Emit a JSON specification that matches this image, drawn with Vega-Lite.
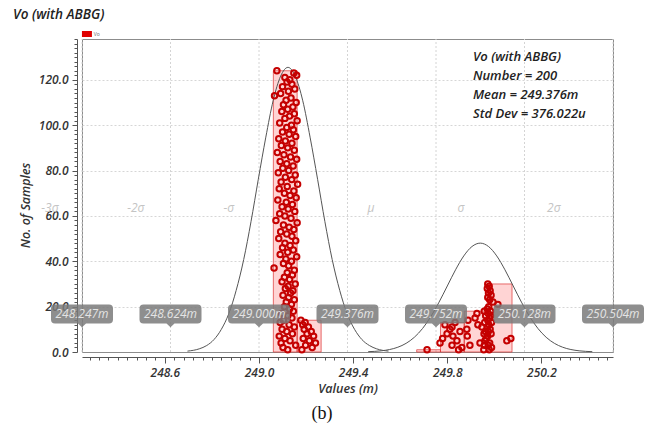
{
  "$schema": "https://vega.github.io/schema/vega-lite/v6.json",
  "width": 531,
  "height": 313,
  "autosize": {"type": "none"},
  "padding": {"left": 82, "top": 39, "right": 33, "bottom": 74},
  "config": {
    "view": {"stroke": "#8c8c8c", "strokeWidth": 1},
    "font": "Open Sans",
    "axis": {
      "domainColor": "#555", "tickColor": "#555",
      "labelFont": "Open Sans", "labelFontSize": 12, "labelFontWeight": 600, "labelFontStyle": "italic", "labelColor": "#333",
      "labelPadding": 4, "labelOverlap": false, "labelFlush": false,
      "titleFont": "Open Sans", "titleFontSize": 12.5, "titleFontWeight": 600, "titleFontStyle": "italic", "titleColor": "#333"
    }
  },
  "data": {"values": [{}]},
  "datasets": {
    "bins": [
      {"x": 249.061, "x2": 249.162, "y": 124},
      {"x": 249.162, "x2": 249.264, "y": 14},
      {"x": 249.670, "x2": 249.771, "y": 1},
      {"x": 249.771, "x2": 249.872, "y": 13},
      {"x": 249.872, "x2": 249.974, "y": 18},
      {"x": 249.974, "x2": 250.075, "y": 30}
    ],
    "curves": [
      {"c": "a", "x": 248.696, "y": 0.39}, {"c": "a", "x": 248.746, "y": 1.39}, {"c": "a", "x": 248.778, "y": 2.86},
      {"c": "a", "x": 248.809, "y": 5.51}, {"c": "a", "x": 248.840, "y": 9.99}, {"c": "a", "x": 248.872, "y": 16.98},
      {"c": "a", "x": 248.903, "y": 27.15}, {"c": "a", "x": 248.935, "y": 40.75}, {"c": "a", "x": 248.966, "y": 57.45},
      {"c": "a", "x": 248.997, "y": 76.12}, {"c": "a", "x": 249.029, "y": 94.73}, {"c": "a", "x": 249.060, "y": 110.75},
      {"c": "a", "x": 249.092, "y": 121.63}, {"c": "a", "x": 249.123, "y": 125.5}, {"c": "a", "x": 249.154, "y": 121.63},
      {"c": "a", "x": 249.186, "y": 110.75}, {"c": "a", "x": 249.217, "y": 94.73}, {"c": "a", "x": 249.249, "y": 76.12},
      {"c": "a", "x": 249.280, "y": 57.45}, {"c": "a", "x": 249.311, "y": 40.75}, {"c": "a", "x": 249.343, "y": 27.15},
      {"c": "a", "x": 249.374, "y": 16.98}, {"c": "a", "x": 249.406, "y": 9.99}, {"c": "a", "x": 249.437, "y": 5.51},
      {"c": "a", "x": 249.469, "y": 2.86}, {"c": "a", "x": 249.500, "y": 1.39}, {"c": "a", "x": 249.550, "y": 0.39},
      {"c": "b", "x": 249.464, "y": 0.15}, {"c": "b", "x": 249.520, "y": 0.53}, {"c": "b", "x": 249.555, "y": 1.09},
      {"c": "b", "x": 249.590, "y": 2.11}, {"c": "b", "x": 249.625, "y": 3.82}, {"c": "b", "x": 249.660, "y": 6.49},
      {"c": "b", "x": 249.695, "y": 10.38}, {"c": "b", "x": 249.730, "y": 15.59}, {"c": "b", "x": 249.765, "y": 21.98},
      {"c": "b", "x": 249.800, "y": 29.11}, {"c": "b", "x": 249.835, "y": 36.23}, {"c": "b", "x": 249.870, "y": 42.36},
      {"c": "b", "x": 249.905, "y": 46.52}, {"c": "b", "x": 249.940, "y": 48}, {"c": "b", "x": 249.975, "y": 46.52},
      {"c": "b", "x": 250.010, "y": 42.36}, {"c": "b", "x": 250.045, "y": 36.23}, {"c": "b", "x": 250.080, "y": 29.11},
      {"c": "b", "x": 250.115, "y": 21.98}, {"c": "b", "x": 250.150, "y": 15.59}, {"c": "b", "x": 250.185, "y": 10.38},
      {"c": "b", "x": 250.220, "y": 6.49}, {"c": "b", "x": 250.255, "y": 3.82}, {"c": "b", "x": 250.290, "y": 2.11},
      {"c": "b", "x": 250.325, "y": 1.09}, {"c": "b", "x": 250.360, "y": 0.53}, {"c": "b", "x": 250.416, "y": 0.15}
    ],
    "dots": [
      {"x": 249.076, "y": 124}, {"x": 249.148, "y": 123}, {"x": 249.160, "y": 122}, {"x": 249.110, "y": 121},
      {"x": 249.131, "y": 120}, {"x": 249.119, "y": 119}, {"x": 249.140, "y": 118}, {"x": 249.100, "y": 117},
      {"x": 249.152, "y": 116}, {"x": 249.125, "y": 115}, {"x": 249.092, "y": 114}, {"x": 249.066, "y": 113},
      {"x": 249.136, "y": 112}, {"x": 249.115, "y": 111}, {"x": 249.158, "y": 110}, {"x": 249.104, "y": 109},
      {"x": 249.144, "y": 108}, {"x": 249.122, "y": 107}, {"x": 249.097, "y": 106}, {"x": 249.150, "y": 105},
      {"x": 249.130, "y": 104}, {"x": 249.110, "y": 103}, {"x": 249.162, "y": 102}, {"x": 249.088, "y": 101},
      {"x": 249.138, "y": 100}, {"x": 249.118, "y": 99}, {"x": 249.146, "y": 98}, {"x": 249.100, "y": 97},
      {"x": 249.128, "y": 96}, {"x": 249.156, "y": 95}, {"x": 249.084, "y": 94}, {"x": 249.112, "y": 93},
      {"x": 249.140, "y": 92}, {"x": 249.095, "y": 91}, {"x": 249.122, "y": 90}, {"x": 249.150, "y": 89},
      {"x": 249.078, "y": 88}, {"x": 249.106, "y": 87}, {"x": 249.134, "y": 86}, {"x": 249.160, "y": 85},
      {"x": 249.090, "y": 84}, {"x": 249.118, "y": 83}, {"x": 249.145, "y": 82}, {"x": 249.101, "y": 81},
      {"x": 249.126, "y": 80}, {"x": 249.082, "y": 79}, {"x": 249.154, "y": 78}, {"x": 249.112, "y": 77},
      {"x": 249.139, "y": 76}, {"x": 249.094, "y": 75}, {"x": 249.164, "y": 74}, {"x": 249.120, "y": 73},
      {"x": 249.086, "y": 72}, {"x": 249.148, "y": 71}, {"x": 249.108, "y": 70}, {"x": 249.132, "y": 69},
      {"x": 249.158, "y": 68}, {"x": 249.080, "y": 67}, {"x": 249.116, "y": 66}, {"x": 249.142, "y": 65},
      {"x": 249.098, "y": 64}, {"x": 249.124, "y": 63}, {"x": 249.152, "y": 62}, {"x": 249.088, "y": 61},
      {"x": 249.110, "y": 60}, {"x": 249.136, "y": 59}, {"x": 249.072, "y": 58}, {"x": 249.162, "y": 57},
      {"x": 249.104, "y": 56}, {"x": 249.128, "y": 55}, {"x": 249.148, "y": 54}, {"x": 249.092, "y": 53},
      {"x": 249.118, "y": 52}, {"x": 249.140, "y": 51}, {"x": 249.084, "y": 50}, {"x": 249.156, "y": 49},
      {"x": 249.110, "y": 48}, {"x": 249.132, "y": 47}, {"x": 249.100, "y": 46}, {"x": 249.146, "y": 45},
      {"x": 249.122, "y": 44}, {"x": 249.090, "y": 43}, {"x": 249.160, "y": 42}, {"x": 249.114, "y": 41},
      {"x": 249.138, "y": 40}, {"x": 249.104, "y": 39}, {"x": 249.126, "y": 38}, {"x": 249.064, "y": 37},
      {"x": 249.150, "y": 36}, {"x": 249.120, "y": 35}, {"x": 249.142, "y": 34}, {"x": 249.108, "y": 33},
      {"x": 249.130, "y": 32}, {"x": 249.098, "y": 31}, {"x": 249.154, "y": 30}, {"x": 249.124, "y": 29},
      {"x": 249.112, "y": 28}, {"x": 249.144, "y": 27}, {"x": 249.134, "y": 26}, {"x": 249.102, "y": 25},
      {"x": 249.126, "y": 24}, {"x": 249.150, "y": 23}, {"x": 249.116, "y": 22}, {"x": 249.138, "y": 21},
      {"x": 249.108, "y": 20}, {"x": 249.130, "y": 19}, {"x": 249.146, "y": 18}, {"x": 249.096, "y": 17},
      {"x": 249.122, "y": 16}, {"x": 249.140, "y": 15}, {"x": 249.104, "y": 14}, {"x": 249.090, "y": 13},
      {"x": 249.128, "y": 12}, {"x": 249.150, "y": 11}, {"x": 249.098, "y": 10}, {"x": 249.118, "y": 9},
      {"x": 249.142, "y": 8}, {"x": 249.086, "y": 7}, {"x": 249.110, "y": 6}, {"x": 249.132, "y": 5},
      {"x": 249.094, "y": 4}, {"x": 249.156, "y": 3}, {"x": 249.102, "y": 2}, {"x": 249.122, "y": 1},
      {"x": 249.178, "y": 14}, {"x": 249.196, "y": 13}, {"x": 249.186, "y": 12}, {"x": 249.210, "y": 11},
      {"x": 249.192, "y": 10}, {"x": 249.222, "y": 9}, {"x": 249.204, "y": 8}, {"x": 249.232, "y": 7},
      {"x": 249.188, "y": 6}, {"x": 249.214, "y": 5}, {"x": 249.240, "y": 4}, {"x": 249.198, "y": 3},
      {"x": 249.226, "y": 2}, {"x": 249.182, "y": 1},
      {"x": 249.714, "y": 1},
      {"x": 249.769, "y": 4}, {"x": 249.790, "y": 12}, {"x": 249.799, "y": 8}, {"x": 249.811, "y": 10},
      {"x": 249.820, "y": 11}, {"x": 249.824, "y": 7}, {"x": 249.833, "y": 13}, {"x": 249.854, "y": 9},
      {"x": 249.841, "y": 5}, {"x": 249.820, "y": 3}, {"x": 249.862, "y": 2}, {"x": 249.780, "y": 6},
      {"x": 249.848, "y": 1},
      {"x": 249.888, "y": 14}, {"x": 249.883, "y": 10}, {"x": 249.885, "y": 7}, {"x": 249.926, "y": 17},
      {"x": 249.930, "y": 12}, {"x": 249.947, "y": 11}, {"x": 249.918, "y": 15}, {"x": 249.896, "y": 3},
      {"x": 249.955, "y": 1}, {"x": 249.958, "y": 3}, {"x": 249.960, "y": 5}, {"x": 249.956, "y": 8},
      {"x": 249.962, "y": 9}, {"x": 249.959, "y": 13}, {"x": 249.963, "y": 16}, {"x": 249.957, "y": 18},
      {"x": 249.965, "y": 6}, {"x": 249.939, "y": 4},
      {"x": 249.972, "y": 30}, {"x": 249.978, "y": 29}, {"x": 249.970, "y": 28}, {"x": 249.982, "y": 27},
      {"x": 249.975, "y": 26}, {"x": 249.986, "y": 25}, {"x": 249.972, "y": 24}, {"x": 249.980, "y": 23},
      {"x": 249.994, "y": 22}, {"x": 250.015, "y": 21}, {"x": 249.976, "y": 20}, {"x": 249.970, "y": 19},
      {"x": 249.984, "y": 18}, {"x": 249.974, "y": 17}, {"x": 249.984, "y": 16}, {"x": 249.980, "y": 15},
      {"x": 249.972, "y": 14}, {"x": 249.988, "y": 13}, {"x": 249.976, "y": 12}, {"x": 249.970, "y": 11},
      {"x": 249.982, "y": 10}, {"x": 249.974, "y": 9}, {"x": 249.986, "y": 8}, {"x": 249.972, "y": 7},
      {"x": 250.070, "y": 6}, {"x": 250.053, "y": 5}, {"x": 249.980, "y": 4}, {"x": 249.974, "y": 3},
      {"x": 249.988, "y": 2}, {"x": 249.978, "y": 1}
    ],
    "markers": [
      {"x": 248.248, "t": "248.247m"}, {"x": 248.624, "t": "248.624m"}, {"x": 249.0, "t": "249.000m"},
      {"x": 249.376, "t": "249.376m"}, {"x": 249.752, "t": "249.752m"}, {"x": 250.128, "t": "250.128m"},
      {"x": 250.504, "t": "250.504m"}
    ],
    "sigmas": [
      {"x": 248.112, "t": "-3σ"}, {"x": 248.477, "t": "-2σ"}, {"x": 248.872, "t": "-σ"},
      {"x": 249.476, "t": "μ"}, {"x": 249.858, "t": "σ"}, {"x": 250.253, "t": "2σ"}
    ]
  },
  "layer": [
    {
      "data": {"name": "markers"},
      "mark": {"type": "rule", "color": "#d4d4d4", "strokeDash": [2, 2], "strokeWidth": 1},
      "encoding": {
        "x": {"field": "x", "type": "quantitative", "scale": {"domain": [248.248, 250.504], "nice": false, "zero": false}, "axis": {"title": "Values (m)", "values": [248.28,248.32,248.36,248.4,248.44,248.48,248.52,248.56,248.6,248.64,248.68,248.72,248.76,248.8,248.84,248.88,248.92,248.96,249,249.04,249.08,249.12,249.16,249.2,249.24,249.28,249.32,249.36,249.4,249.44,249.48,249.52,249.56,249.6,249.64,249.68,249.72,249.76,249.8,249.84,249.88,249.92,249.96,250,250.04,250.08,250.12,250.16,250.2,250.24,250.28,250.32,250.36,250.4,250.44,250.48], "labelExpr": "indexof([248.6,249,249.4,249.8,250.2], datum.value) >= 0 ? format(datum.value, '.1f') : ''", "tickSize": {"condition": {"test": "indexof([248.6,249,249.4,249.8,250.2], datum.value) >= 0", "value": 6}, "value": 3}, "offset": 5, "grid": false, "titlePadding": 4}},
        "y": {"datum": 0, "type": "quantitative", "scale": {"domain": [0, 138], "nice": false, "zero": false}, "axis": {"title": "No. of Samples", "values": [0,2,4,6,8,10,12,14,16,18,20,22,24,26,28,30,32,34,36,38,40,42,44,46,48,50,52,54,56,58,60,62,64,66,68,70,72,74,76,78,80,82,84,86,88,90,92,94,96,98,100,102,104,106,108,110,112,114,116,118,120,122,124,126,128,130,132,134,136,138], "labelExpr": "datum.value % 20 === 0 ? format(datum.value, '.1f') : ''", "tickSize": {"condition": {"test": "datum.value % 20 === 0", "value": 5}, "value": 3}, "grid": true, "gridDash": [2, 2], "gridColor": "#d6d6d6", "gridOpacity": {"condition": {"test": "datum.value % 20 === 0 && datum.value > 0", "value": 1}, "value": 0}, "offset": 5, "titleX": -52, "titleY": 166, "titleBaseline": "middle", "titleAlign": "center", "titleAngle": -90}},
        "y2": {"datum": 138}
      }
    },
    {
      "data": {"name": "bins"},
      "mark": {"type": "rect", "fill": "#ff0000", "fillOpacity": 0.17, "stroke": "#dd3333", "strokeWidth": 1, "strokeOpacity": 0.7},
      "encoding": {
        "x": {"field": "x", "type": "quantitative", "scale": {"domain": [248.248, 250.504], "nice": false, "zero": false}, "axis": {"title": "Values (m)", "values": [248.28,248.32,248.36,248.4,248.44,248.48,248.52,248.56,248.6,248.64,248.68,248.72,248.76,248.8,248.84,248.88,248.92,248.96,249,249.04,249.08,249.12,249.16,249.2,249.24,249.28,249.32,249.36,249.4,249.44,249.48,249.52,249.56,249.6,249.64,249.68,249.72,249.76,249.8,249.84,249.88,249.92,249.96,250,250.04,250.08,250.12,250.16,250.2,250.24,250.28,250.32,250.36,250.4,250.44,250.48], "labelExpr": "indexof([248.6,249,249.4,249.8,250.2], datum.value) >= 0 ? format(datum.value, '.1f') : ''", "tickSize": {"condition": {"test": "indexof([248.6,249,249.4,249.8,250.2], datum.value) >= 0", "value": 6}, "value": 3}, "offset": 5, "grid": false, "titlePadding": 4}},
        "x2": {"field": "x2"},
        "y": {"field": "y", "type": "quantitative", "scale": {"domain": [0, 138], "nice": false, "zero": false}, "axis": {"title": "No. of Samples", "values": [0,2,4,6,8,10,12,14,16,18,20,22,24,26,28,30,32,34,36,38,40,42,44,46,48,50,52,54,56,58,60,62,64,66,68,70,72,74,76,78,80,82,84,86,88,90,92,94,96,98,100,102,104,106,108,110,112,114,116,118,120,122,124,126,128,130,132,134,136,138], "labelExpr": "datum.value % 20 === 0 ? format(datum.value, '.1f') : ''", "tickSize": {"condition": {"test": "datum.value % 20 === 0", "value": 5}, "value": 3}, "grid": true, "gridDash": [2, 2], "gridColor": "#d6d6d6", "gridOpacity": {"condition": {"test": "datum.value % 20 === 0 && datum.value > 0", "value": 1}, "value": 0}, "offset": 5, "titleX": -52, "titleY": 166, "titleBaseline": "middle", "titleAlign": "center", "titleAngle": -90}},
        "y2": {"datum": 0}
      }
    },
    {
      "data": {"name": "sigmas"},
      "mark": {"type": "text", "font": "Open Sans", "fontSize": 12, "fontStyle": "italic", "color": "#c4c4c4", "baseline": "middle", "align": "center"},
      "encoding": {
        "x": {"field": "x", "type": "quantitative", "scale": {"domain": [248.248, 250.504], "nice": false, "zero": false}, "axis": {"title": "Values (m)", "values": [248.28,248.32,248.36,248.4,248.44,248.48,248.52,248.56,248.6,248.64,248.68,248.72,248.76,248.8,248.84,248.88,248.92,248.96,249,249.04,249.08,249.12,249.16,249.2,249.24,249.28,249.32,249.36,249.4,249.44,249.48,249.52,249.56,249.6,249.64,249.68,249.72,249.76,249.8,249.84,249.88,249.92,249.96,250,250.04,250.08,250.12,250.16,250.2,250.24,250.28,250.32,250.36,250.4,250.44,250.48], "labelExpr": "indexof([248.6,249,249.4,249.8,250.2], datum.value) >= 0 ? format(datum.value, '.1f') : ''", "tickSize": {"condition": {"test": "indexof([248.6,249,249.4,249.8,250.2], datum.value) >= 0", "value": 6}, "value": 3}, "offset": 5, "grid": false, "titlePadding": 4}},
        "y": {"datum": 63.5, "type": "quantitative", "scale": {"domain": [0, 138], "nice": false, "zero": false}, "axis": {"title": "No. of Samples", "values": [0,2,4,6,8,10,12,14,16,18,20,22,24,26,28,30,32,34,36,38,40,42,44,46,48,50,52,54,56,58,60,62,64,66,68,70,72,74,76,78,80,82,84,86,88,90,92,94,96,98,100,102,104,106,108,110,112,114,116,118,120,122,124,126,128,130,132,134,136,138], "labelExpr": "datum.value % 20 === 0 ? format(datum.value, '.1f') : ''", "tickSize": {"condition": {"test": "datum.value % 20 === 0", "value": 5}, "value": 3}, "grid": true, "gridDash": [2, 2], "gridColor": "#d6d6d6", "gridOpacity": {"condition": {"test": "datum.value % 20 === 0 && datum.value > 0", "value": 1}, "value": 0}, "offset": 5, "titleX": -52, "titleY": 166, "titleBaseline": "middle", "titleAlign": "center", "titleAngle": -90}},
        "text": {"field": "t"}
      }
    },
    {
      "data": {"name": "curves"},
      "mark": {"type": "line", "color": "#555555", "strokeWidth": 1, "interpolate": "monotone"},
      "encoding": {
        "x": {"field": "x", "type": "quantitative", "scale": {"domain": [248.248, 250.504], "nice": false, "zero": false}, "axis": {"title": "Values (m)", "values": [248.28,248.32,248.36,248.4,248.44,248.48,248.52,248.56,248.6,248.64,248.68,248.72,248.76,248.8,248.84,248.88,248.92,248.96,249,249.04,249.08,249.12,249.16,249.2,249.24,249.28,249.32,249.36,249.4,249.44,249.48,249.52,249.56,249.6,249.64,249.68,249.72,249.76,249.8,249.84,249.88,249.92,249.96,250,250.04,250.08,250.12,250.16,250.2,250.24,250.28,250.32,250.36,250.4,250.44,250.48], "labelExpr": "indexof([248.6,249,249.4,249.8,250.2], datum.value) >= 0 ? format(datum.value, '.1f') : ''", "tickSize": {"condition": {"test": "indexof([248.6,249,249.4,249.8,250.2], datum.value) >= 0", "value": 6}, "value": 3}, "offset": 5, "grid": false, "titlePadding": 4}},
        "y": {"field": "y", "type": "quantitative", "scale": {"domain": [0, 138], "nice": false, "zero": false}, "axis": {"title": "No. of Samples", "values": [0,2,4,6,8,10,12,14,16,18,20,22,24,26,28,30,32,34,36,38,40,42,44,46,48,50,52,54,56,58,60,62,64,66,68,70,72,74,76,78,80,82,84,86,88,90,92,94,96,98,100,102,104,106,108,110,112,114,116,118,120,122,124,126,128,130,132,134,136,138], "labelExpr": "datum.value % 20 === 0 ? format(datum.value, '.1f') : ''", "tickSize": {"condition": {"test": "datum.value % 20 === 0", "value": 5}, "value": 3}, "grid": true, "gridDash": [2, 2], "gridColor": "#d6d6d6", "gridOpacity": {"condition": {"test": "datum.value % 20 === 0 && datum.value > 0", "value": 1}, "value": 0}, "offset": 5, "titleX": -52, "titleY": 166, "titleBaseline": "middle", "titleAlign": "center", "titleAngle": -90}},
        "detail": {"field": "c"}
      }
    },
    {
      "data": {"name": "dots"},
      "mark": {"type": "point", "filled": false, "shape": "circle", "size": 30, "stroke": "#c40000", "strokeWidth": 2, "opacity": 1},
      "encoding": {
        "x": {"field": "x", "type": "quantitative", "scale": {"domain": [248.248, 250.504], "nice": false, "zero": false}, "axis": {"title": "Values (m)", "values": [248.28,248.32,248.36,248.4,248.44,248.48,248.52,248.56,248.6,248.64,248.68,248.72,248.76,248.8,248.84,248.88,248.92,248.96,249,249.04,249.08,249.12,249.16,249.2,249.24,249.28,249.32,249.36,249.4,249.44,249.48,249.52,249.56,249.6,249.64,249.68,249.72,249.76,249.8,249.84,249.88,249.92,249.96,250,250.04,250.08,250.12,250.16,250.2,250.24,250.28,250.32,250.36,250.4,250.44,250.48], "labelExpr": "indexof([248.6,249,249.4,249.8,250.2], datum.value) >= 0 ? format(datum.value, '.1f') : ''", "tickSize": {"condition": {"test": "indexof([248.6,249,249.4,249.8,250.2], datum.value) >= 0", "value": 6}, "value": 3}, "offset": 5, "grid": false, "titlePadding": 4}},
        "y": {"field": "y", "type": "quantitative", "scale": {"domain": [0, 138], "nice": false, "zero": false}, "axis": {"title": "No. of Samples", "values": [0,2,4,6,8,10,12,14,16,18,20,22,24,26,28,30,32,34,36,38,40,42,44,46,48,50,52,54,56,58,60,62,64,66,68,70,72,74,76,78,80,82,84,86,88,90,92,94,96,98,100,102,104,106,108,110,112,114,116,118,120,122,124,126,128,130,132,134,136,138], "labelExpr": "datum.value % 20 === 0 ? format(datum.value, '.1f') : ''", "tickSize": {"condition": {"test": "datum.value % 20 === 0", "value": 5}, "value": 3}, "grid": true, "gridDash": [2, 2], "gridColor": "#d6d6d6", "gridOpacity": {"condition": {"test": "datum.value % 20 === 0 && datum.value > 0", "value": 1}, "value": 0}, "offset": 5, "titleX": -52, "titleY": 166, "titleBaseline": "middle", "titleAlign": "center", "titleAngle": -90}}
      }
    },
    {
      "data": {"name": "markers"},
      "mark": {"type": "point", "filled": true, "shape": "M-0.87,-0.306 H0.87 Q1,-0.306 1,-0.177 V0.177 Q1,0.306 0.87,0.306 H0.13 L0,0.43 L-0.13,0.306 H-0.87 Q-1,0.306 -1,0.177 V-0.177 Q-1,-0.306 -0.87,-0.306 Z", "size": 3844, "color": "#7a7a7a", "opacity": 0.85, "strokeWidth": 0},
      "encoding": {
        "x": {"field": "x", "type": "quantitative", "scale": {"domain": [248.248, 250.504], "nice": false, "zero": false}, "axis": {"title": "Values (m)", "values": [248.28,248.32,248.36,248.4,248.44,248.48,248.52,248.56,248.6,248.64,248.68,248.72,248.76,248.8,248.84,248.88,248.92,248.96,249,249.04,249.08,249.12,249.16,249.2,249.24,249.28,249.32,249.36,249.4,249.44,249.48,249.52,249.56,249.6,249.64,249.68,249.72,249.76,249.8,249.84,249.88,249.92,249.96,250,250.04,250.08,250.12,250.16,250.2,250.24,250.28,250.32,250.36,250.4,250.44,250.48], "labelExpr": "indexof([248.6,249,249.4,249.8,250.2], datum.value) >= 0 ? format(datum.value, '.1f') : ''", "tickSize": {"condition": {"test": "indexof([248.6,249,249.4,249.8,250.2], datum.value) >= 0", "value": 6}, "value": 3}, "offset": 5, "grid": false, "titlePadding": 4}},
        "y": {"datum": 16.75, "type": "quantitative", "scale": {"domain": [0, 138], "nice": false, "zero": false}, "axis": {"title": "No. of Samples", "values": [0,2,4,6,8,10,12,14,16,18,20,22,24,26,28,30,32,34,36,38,40,42,44,46,48,50,52,54,56,58,60,62,64,66,68,70,72,74,76,78,80,82,84,86,88,90,92,94,96,98,100,102,104,106,108,110,112,114,116,118,120,122,124,126,128,130,132,134,136,138], "labelExpr": "datum.value % 20 === 0 ? format(datum.value, '.1f') : ''", "tickSize": {"condition": {"test": "datum.value % 20 === 0", "value": 5}, "value": 3}, "grid": true, "gridDash": [2, 2], "gridColor": "#d6d6d6", "gridOpacity": {"condition": {"test": "datum.value % 20 === 0 && datum.value > 0", "value": 1}, "value": 0}, "offset": 5, "titleX": -52, "titleY": 166, "titleBaseline": "middle", "titleAlign": "center", "titleAngle": -90}}
      }
    },
    {
      "data": {"name": "markers"},
      "mark": {"type": "text", "font": "Open Sans", "fontSize": 12, "fontStyle": "italic", "color": "#e4e4e4", "baseline": "middle", "align": "center"},
      "encoding": {
        "x": {"field": "x", "type": "quantitative", "scale": {"domain": [248.248, 250.504], "nice": false, "zero": false}, "axis": {"title": "Values (m)", "values": [248.28,248.32,248.36,248.4,248.44,248.48,248.52,248.56,248.6,248.64,248.68,248.72,248.76,248.8,248.84,248.88,248.92,248.96,249,249.04,249.08,249.12,249.16,249.2,249.24,249.28,249.32,249.36,249.4,249.44,249.48,249.52,249.56,249.6,249.64,249.68,249.72,249.76,249.8,249.84,249.88,249.92,249.96,250,250.04,250.08,250.12,250.16,250.2,250.24,250.28,250.32,250.36,250.4,250.44,250.48], "labelExpr": "indexof([248.6,249,249.4,249.8,250.2], datum.value) >= 0 ? format(datum.value, '.1f') : ''", "tickSize": {"condition": {"test": "indexof([248.6,249,249.4,249.8,250.2], datum.value) >= 0", "value": 6}, "value": 3}, "offset": 5, "grid": false, "titlePadding": 4}},
        "y": {"datum": 16.75, "type": "quantitative", "scale": {"domain": [0, 138], "nice": false, "zero": false}, "axis": {"title": "No. of Samples", "values": [0,2,4,6,8,10,12,14,16,18,20,22,24,26,28,30,32,34,36,38,40,42,44,46,48,50,52,54,56,58,60,62,64,66,68,70,72,74,76,78,80,82,84,86,88,90,92,94,96,98,100,102,104,106,108,110,112,114,116,118,120,122,124,126,128,130,132,134,136,138], "labelExpr": "datum.value % 20 === 0 ? format(datum.value, '.1f') : ''", "tickSize": {"condition": {"test": "datum.value % 20 === 0", "value": 5}, "value": 3}, "grid": true, "gridDash": [2, 2], "gridColor": "#d6d6d6", "gridOpacity": {"condition": {"test": "datum.value % 20 === 0 && datum.value > 0", "value": 1}, "value": 0}, "offset": 5, "titleX": -52, "titleY": 166, "titleBaseline": "middle", "titleAlign": "center", "titleAngle": -90}},
        "text": {"field": "t"}
      }
    },
    {
      "data": {"values": [{"t1": "Vo (with ABBG)"}]},
      "mark": {"type": "text", "font": "Open Sans", "fontSize": 13, "fontStyle": "italic", "fontWeight": 600, "color": "#222", "align": "left", "baseline": "middle", "lineHeight": 19},
      "encoding": {
        "x": {"datum": 249.909, "type": "quantitative", "scale": {"domain": [248.248, 250.504], "nice": false, "zero": false}, "axis": {"title": "Values (m)", "values": [248.28,248.32,248.36,248.4,248.44,248.48,248.52,248.56,248.6,248.64,248.68,248.72,248.76,248.8,248.84,248.88,248.92,248.96,249,249.04,249.08,249.12,249.16,249.2,249.24,249.28,249.32,249.36,249.4,249.44,249.48,249.52,249.56,249.6,249.64,249.68,249.72,249.76,249.8,249.84,249.88,249.92,249.96,250,250.04,250.08,250.12,250.16,250.2,250.24,250.28,250.32,250.36,250.4,250.44,250.48], "labelExpr": "indexof([248.6,249,249.4,249.8,250.2], datum.value) >= 0 ? format(datum.value, '.1f') : ''", "tickSize": {"condition": {"test": "indexof([248.6,249,249.4,249.8,250.2], datum.value) >= 0", "value": 6}, "value": 3}, "offset": 5, "grid": false, "titlePadding": 4}},
        "y": {"datum": 130.1, "type": "quantitative", "scale": {"domain": [0, 138], "nice": false, "zero": false}, "axis": {"title": "No. of Samples", "values": [0,2,4,6,8,10,12,14,16,18,20,22,24,26,28,30,32,34,36,38,40,42,44,46,48,50,52,54,56,58,60,62,64,66,68,70,72,74,76,78,80,82,84,86,88,90,92,94,96,98,100,102,104,106,108,110,112,114,116,118,120,122,124,126,128,130,132,134,136,138], "labelExpr": "datum.value % 20 === 0 ? format(datum.value, '.1f') : ''", "tickSize": {"condition": {"test": "datum.value % 20 === 0", "value": 5}, "value": 3}, "grid": true, "gridDash": [2, 2], "gridColor": "#d6d6d6", "gridOpacity": {"condition": {"test": "datum.value % 20 === 0 && datum.value > 0", "value": 1}, "value": 0}, "offset": 5, "titleX": -52, "titleY": 166, "titleBaseline": "middle", "titleAlign": "center", "titleAngle": -90}},
        "text": {"value": ["Vo (with ABBG)", "Number = 200", "Mean = 249.376m", "Std Dev = 376.022u"]}
      }
    },
    {
      "mark": {"type": "text", "font": "Open Sans", "fontSize": 13.5, "fontStyle": "italic", "fontWeight": 600, "color": "#222", "align": "left", "baseline": "middle"},
      "encoding": {
        "x": {"datum": 247.955, "type": "quantitative", "scale": {"domain": [248.248, 250.504], "nice": false, "zero": false}, "axis": {"title": "Values (m)", "values": [248.28,248.32,248.36,248.4,248.44,248.48,248.52,248.56,248.6,248.64,248.68,248.72,248.76,248.8,248.84,248.88,248.92,248.96,249,249.04,249.08,249.12,249.16,249.2,249.24,249.28,249.32,249.36,249.4,249.44,249.48,249.52,249.56,249.6,249.64,249.68,249.72,249.76,249.8,249.84,249.88,249.92,249.96,250,250.04,250.08,250.12,250.16,250.2,250.24,250.28,250.32,250.36,250.4,250.44,250.48], "labelExpr": "indexof([248.6,249,249.4,249.8,250.2], datum.value) >= 0 ? format(datum.value, '.1f') : ''", "tickSize": {"condition": {"test": "indexof([248.6,249,249.4,249.8,250.2], datum.value) >= 0", "value": 6}, "value": 3}, "offset": 5, "grid": false, "titlePadding": 4}},
        "y": {"datum": 148.6, "type": "quantitative", "scale": {"domain": [0, 138], "nice": false, "zero": false}, "axis": {"title": "No. of Samples", "values": [0,2,4,6,8,10,12,14,16,18,20,22,24,26,28,30,32,34,36,38,40,42,44,46,48,50,52,54,56,58,60,62,64,66,68,70,72,74,76,78,80,82,84,86,88,90,92,94,96,98,100,102,104,106,108,110,112,114,116,118,120,122,124,126,128,130,132,134,136,138], "labelExpr": "datum.value % 20 === 0 ? format(datum.value, '.1f') : ''", "tickSize": {"condition": {"test": "datum.value % 20 === 0", "value": 5}, "value": 3}, "grid": true, "gridDash": [2, 2], "gridColor": "#d6d6d6", "gridOpacity": {"condition": {"test": "datum.value % 20 === 0 && datum.value > 0", "value": 1}, "value": 0}, "offset": 5, "titleX": -52, "titleY": 166, "titleBaseline": "middle", "titleAlign": "center", "titleAngle": -90}},
        "text": {"value": "Vo (with ABBG)"}
      }
    },
    {
      "mark": {"type": "text", "font": "Liberation Serif", "fontSize": 18, "color": "#111", "align": "center", "baseline": "middle"},
      "encoding": {
        "x": {"datum": 249.268, "type": "quantitative", "scale": {"domain": [248.248, 250.504], "nice": false, "zero": false}, "axis": {"title": "Values (m)", "values": [248.28,248.32,248.36,248.4,248.44,248.48,248.52,248.56,248.6,248.64,248.68,248.72,248.76,248.8,248.84,248.88,248.92,248.96,249,249.04,249.08,249.12,249.16,249.2,249.24,249.28,249.32,249.36,249.4,249.44,249.48,249.52,249.56,249.6,249.64,249.68,249.72,249.76,249.8,249.84,249.88,249.92,249.96,250,250.04,250.08,250.12,250.16,250.2,250.24,250.28,250.32,250.36,250.4,250.44,250.48], "labelExpr": "indexof([248.6,249,249.4,249.8,250.2], datum.value) >= 0 ? format(datum.value, '.1f') : ''", "tickSize": {"condition": {"test": "indexof([248.6,249,249.4,249.8,250.2], datum.value) >= 0", "value": 6}, "value": 3}, "offset": 5, "grid": false, "titlePadding": 4}},
        "y": {"datum": -27.3, "type": "quantitative", "scale": {"domain": [0, 138], "nice": false, "zero": false}, "axis": {"title": "No. of Samples", "values": [0,2,4,6,8,10,12,14,16,18,20,22,24,26,28,30,32,34,36,38,40,42,44,46,48,50,52,54,56,58,60,62,64,66,68,70,72,74,76,78,80,82,84,86,88,90,92,94,96,98,100,102,104,106,108,110,112,114,116,118,120,122,124,126,128,130,132,134,136,138], "labelExpr": "datum.value % 20 === 0 ? format(datum.value, '.1f') : ''", "tickSize": {"condition": {"test": "datum.value % 20 === 0", "value": 5}, "value": 3}, "grid": true, "gridDash": [2, 2], "gridColor": "#d6d6d6", "gridOpacity": {"condition": {"test": "datum.value % 20 === 0 && datum.value > 0", "value": 1}, "value": 0}, "offset": 5, "titleX": -52, "titleY": 166, "titleBaseline": "middle", "titleAlign": "center", "titleAngle": -90}},
        "text": {"value": "(b)"}
      }
    },
    {
      "mark": {"type": "point", "filled": true, "shape": "M-1,-0.6 H1 V0.6 H-1 Z", "size": 100, "color": "#e00000", "opacity": 1},
      "encoding": {
        "x": {"datum": 248.269, "type": "quantitative", "scale": {"domain": [248.248, 250.504], "nice": false, "zero": false}, "axis": {"title": "Values (m)", "values": [248.28,248.32,248.36,248.4,248.44,248.48,248.52,248.56,248.6,248.64,248.68,248.72,248.76,248.8,248.84,248.88,248.92,248.96,249,249.04,249.08,249.12,249.16,249.2,249.24,249.28,249.32,249.36,249.4,249.44,249.48,249.52,249.56,249.6,249.64,249.68,249.72,249.76,249.8,249.84,249.88,249.92,249.96,250,250.04,250.08,250.12,250.16,250.2,250.24,250.28,250.32,250.36,250.4,250.44,250.48], "labelExpr": "indexof([248.6,249,249.4,249.8,250.2], datum.value) >= 0 ? format(datum.value, '.1f') : ''", "tickSize": {"condition": {"test": "indexof([248.6,249,249.4,249.8,250.2], datum.value) >= 0", "value": 6}, "value": 3}, "offset": 5, "grid": false, "titlePadding": 4}},
        "y": {"datum": 140.2, "type": "quantitative", "scale": {"domain": [0, 138], "nice": false, "zero": false}, "axis": {"title": "No. of Samples", "values": [0,2,4,6,8,10,12,14,16,18,20,22,24,26,28,30,32,34,36,38,40,42,44,46,48,50,52,54,56,58,60,62,64,66,68,70,72,74,76,78,80,82,84,86,88,90,92,94,96,98,100,102,104,106,108,110,112,114,116,118,120,122,124,126,128,130,132,134,136,138], "labelExpr": "datum.value % 20 === 0 ? format(datum.value, '.1f') : ''", "tickSize": {"condition": {"test": "datum.value % 20 === 0", "value": 5}, "value": 3}, "grid": true, "gridDash": [2, 2], "gridColor": "#d6d6d6", "gridOpacity": {"condition": {"test": "datum.value % 20 === 0 && datum.value > 0", "value": 1}, "value": 0}, "offset": 5, "titleX": -52, "titleY": 166, "titleBaseline": "middle", "titleAlign": "center", "titleAngle": -90}}
      }
    },
    {
      "mark": {"type": "text", "font": "Open Sans", "fontSize": 5, "color": "#666", "align": "left", "baseline": "middle"},
      "encoding": {
        "x": {"datum": 248.298, "type": "quantitative", "scale": {"domain": [248.248, 250.504], "nice": false, "zero": false}, "axis": {"title": "Values (m)", "values": [248.28,248.32,248.36,248.4,248.44,248.48,248.52,248.56,248.6,248.64,248.68,248.72,248.76,248.8,248.84,248.88,248.92,248.96,249,249.04,249.08,249.12,249.16,249.2,249.24,249.28,249.32,249.36,249.4,249.44,249.48,249.52,249.56,249.6,249.64,249.68,249.72,249.76,249.8,249.84,249.88,249.92,249.96,250,250.04,250.08,250.12,250.16,250.2,250.24,250.28,250.32,250.36,250.4,250.44,250.48], "labelExpr": "indexof([248.6,249,249.4,249.8,250.2], datum.value) >= 0 ? format(datum.value, '.1f') : ''", "tickSize": {"condition": {"test": "indexof([248.6,249,249.4,249.8,250.2], datum.value) >= 0", "value": 6}, "value": 3}, "offset": 5, "grid": false, "titlePadding": 4}},
        "y": {"datum": 140.2, "type": "quantitative", "scale": {"domain": [0, 138], "nice": false, "zero": false}, "axis": {"title": "No. of Samples", "values": [0,2,4,6,8,10,12,14,16,18,20,22,24,26,28,30,32,34,36,38,40,42,44,46,48,50,52,54,56,58,60,62,64,66,68,70,72,74,76,78,80,82,84,86,88,90,92,94,96,98,100,102,104,106,108,110,112,114,116,118,120,122,124,126,128,130,132,134,136,138], "labelExpr": "datum.value % 20 === 0 ? format(datum.value, '.1f') : ''", "tickSize": {"condition": {"test": "datum.value % 20 === 0", "value": 5}, "value": 3}, "grid": true, "gridDash": [2, 2], "gridColor": "#d6d6d6", "gridOpacity": {"condition": {"test": "datum.value % 20 === 0 && datum.value > 0", "value": 1}, "value": 0}, "offset": 5, "titleX": -52, "titleY": 166, "titleBaseline": "middle", "titleAlign": "center", "titleAngle": -90}},
        "text": {"value": "Vo"}
      }
    }
  ]
}
